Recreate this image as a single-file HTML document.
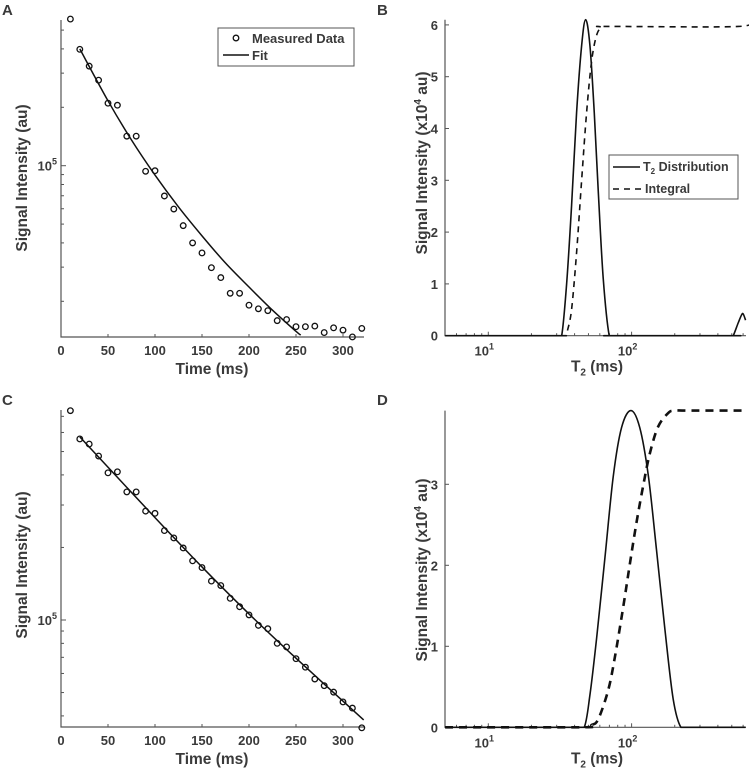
<!DOCTYPE html>
<html><head><meta charset="utf-8"><style>
body{margin:0;background:#fff;overflow:hidden}
svg{display:block}
text{font-family:"Liberation Sans",Arial,sans-serif;font-weight:bold;fill:#3a3a3a}
</style></head><body>
<svg id="fig" width="749" height="780" viewBox="0 0 749 780" xmlns="http://www.w3.org/2000/svg">
<g id="gA"></g>
<g id="gB"></g>
<g id="gC"></g>
<g id="gD"></g>
</svg>
<script>
// ---- Panel A data ----
const timesA = [10,20,30,40,50,60,70,80,90,100,110,120,130,140,150,160,170,180,190,200,210,220,230,240,250,260,270,280,290,300,310,320];
const measA = [5.70e5,3.98e5,3.26e5,2.76e5,2.10e5,2.05e5,1.42e5,1.42e5,9.36e4,9.42e4,6.98e4,5.98e4,4.91e4,4.0e4,3.55e4,2.98e4,2.65e4,2.20e4,2.20e4,1.91e4,1.83e4,1.79e4,1.59e4,1.61e4,1.48e4,1.48e4,1.49e4,1.38e4,1.46e4,1.42e4,1.31e4,1.45e4];
const fitTA = [20,50,75,100,125,150,175,200,225,250,255];
const fitVA = [4.0e5,2.16e5,1.357e5,8.95e4,6.13e4,4.35e4,3.15e4,2.37e4,1.80e4,1.40e4,1.34e4];
// ---- Panel C data ----
const timesC = timesA;
const measC = [7.39e5,5.64e5,5.37e5,4.79e5,4.08e5,4.12e5,3.40e5,3.40e5,2.83e5,2.77e5,2.35e5,2.19e5,1.99e5,1.76e5,1.65e5,1.45e5,1.39e5,1.23e5,1.135e5,1.05e5,9.5e4,9.2e4,8.0e4,7.73e4,6.91e4,6.37e4,5.69e4,5.34e4,5.02e4,4.57e4,4.31e4,3.57e4];
const fitTC = [20,100,150,200,250,322];
const fitVC = [5.75e5,2.66e5,1.66e5,1.06e5,6.94e4,3.85e4];
// ---- Panel B data ----
const distTB = [5,30,32.5,35.2,38.1,41.3,44.8,47.8,51.2,54.9,58.5,63.4,69.8,75,500,512,555,585,601,624];
const distVB = [0,0,0,1.0,2.5,4.3,5.6,6.1,5.6,4.3,2.8,1.1,0,0,0,0,0.25,0.4,0.42,0.3];
const intTB = [35.7,38.1,41.3,44.8,48.5,52.6,57.0,61.8,68.7,555,624];
const intVB = [0.1,0.5,1.6,3.0,4.3,5.3,5.8,5.95,5.97,5.97,6.1];
// ---- Panel D data ----
const distTD = [5,40,46.7,51.2,57.0,65.2,74.5,85.1,98.9,114,131,149,171,195,221,260,624];
const distVD = [0,0,0,0.4,1.1,2.1,3.1,3.7,3.91,3.7,3.1,2.2,1.2,0.35,0,0,0];
const intTD = [5,45,52.6,58.5,68.7,76.5,87.5,97.3,108,121,134,153,180,200,250,624];
const intVD = [0,0,0.03,0.1,0.46,0.87,1.49,2.02,2.52,3.0,3.38,3.71,3.88,3.91,3.91,3.91];
// tick labels
const timeTicks = [0,50,100,150,200,250,300];
const bTicks = [0,1,2,3,4,5,6];
const dTicks = [0,1,2,3];

const NS='http://www.w3.org/2000/svg';
function mk(parent,tag,attrs){const e=document.createElementNS(NS,tag);for(const k in attrs)e.setAttribute(k,attrs[k]);parent.appendChild(e);return e;}
const L=Math.log10;
function smooth(pts,clampY){
  let d='M'+pts[0][0]+','+pts[0][1];
  for(let i=0;i<pts.length-1;i++){
    const p0=pts[Math.max(0,i-1)],p1=pts[i],p2=pts[i+1],p3=pts[Math.min(pts.length-1,i+2)];
    let c1=[p1[0]+(p2[0]-p0[0])/6,p1[1]+(p2[1]-p0[1])/6];
    let c2=[p2[0]-(p3[0]-p1[0])/6,p2[1]-(p3[1]-p1[1])/6];
    if(clampY!==undefined){c1[1]=Math.min(c1[1],clampY);c2[1]=Math.min(c2[1],clampY);}
    d+=' C'+c1[0]+','+c1[1]+' '+c2[0]+','+c2[1]+' '+p2[0]+','+p2[1];
  }
  return d;
}

function timePanel(g,oy,yScale,minorVals,meas,times,fitT,fitV,label,legend){
  const x=t=>61+t*0.94;
  const y0=oy+20, y1=oy+337;
  const pl=mk(g,'text',{x:2,y:oy+15,'font-size':15,fill:'#000'});pl.textContent=label;
  
  
  const ax=mk(g,'path',{d:`M61,${y0}V${y1}H364`,stroke:'#555','stroke-width':1.2,fill:'none'});
  
  
  timeTicks.forEach(t=>{
    mk(g,'line',{x1:x(t),x2:x(t),y1:y1,y2:y1-3,stroke:'#555'});
    const tx=mk(g,'text',{x:x(t),y:y1+18,'font-size':13,'text-anchor':'middle'});tx.textContent=t;
    
    
  });
  minorVals.forEach(v=>{mk(g,'line',{x1:61,x2:64,y1:yScale(v),y2:yScale(v),stroke:'#555'});});
  mk(g,'line',{x1:61,x2:66,y1:yScale(1e5),y2:yScale(1e5),stroke:'#555'});
  const yl=mk(g,'text',{x:57,y:yScale(1e5)+5,'font-size':13,'text-anchor':'end'});
  yl.innerHTML='10<tspan dy="-6" font-size="9">5</tspan>';
  
  
  const yt=mk(g,'text',{transform:`translate(27,${oy+(label=='A'?178:175)}) rotate(-90)`,'font-size':15.5,'text-anchor':'middle'});yt.textContent='Signal Intensity (au)';
  
  
  const xt=mk(g,'text',{x:212,y:oy+374,'font-size':15.5,'text-anchor':'middle'});xt.textContent='Time (ms)';
  
  
  const fl=mk(g,'path',{d:smooth(fitT.map((t,i)=>[x(t),yScale(fitV[i])])),stroke:'#111','stroke-width':1.5,fill:'none'});
  
  
  times.forEach((t,i)=>{
    const c=mk(g,'circle',{cx:x(t),cy:yScale(meas[i]),r:2.8,stroke:'#111','stroke-width':1.3,fill:'none'});
    
    
  });
  if(legend){
    const lg=mk(g,'g',{});
    
    
    mk(lg,'rect',{x:218,y:28,width:136,height:38,fill:'#fff',stroke:'#555','stroke-width':1});
    mk(lg,'circle',{cx:236,cy:38,r:2.8,stroke:'#111','stroke-width':1.3,fill:'none'});
    const t1=mk(lg,'text',{x:252,y:43,'font-size':13});t1.textContent='Measured Data';
    
    
    mk(lg,'line',{x1:223,x2:249,y1:55,y2:55,stroke:'#111','stroke-width':1.5});
    const t2=mk(lg,'text',{x:252,y:60,'font-size':13});t2.textContent='Fit';
    
    
  }
}

function t2Panel(g,oy,y0px,pxUnit,ymax,yticks,dT,dV,iT,iV,label,legend,thick,titleY){
  const x=T=>488.3+143.3*(L(T)-1);
  const y=a=>oy+y0px-pxUnit*a;
  const top=y(ymax);
  const pl=mk(g,'text',{x:377,y:oy+15,'font-size':15,fill:'#000'});pl.textContent=label;
  
  
  const ax=mk(g,'path',{d:`M445,${top}V${y(0)}H746`,stroke:'#555','stroke-width':1.2,fill:'none'});
  
  
  yticks.forEach(v=>{
    mk(g,'line',{x1:445,x2:449,y1:y(v),y2:y(v),stroke:'#555'});
    const t=mk(g,'text',{x:438,y:y(v)+5,'font-size':13,'text-anchor':'end'});t.textContent=v;
    
    
  });
  [6,7,8,9,20,30,40,50,60,70,80,90,200,300,400,500,600].forEach(T=>mk(g,'line',{x1:x(T),x2:x(T),y1:y(0),y2:y(0)-2.5,stroke:'#555'}));
  [10,100].forEach((T,i)=>{
    mk(g,'line',{x1:x(T),x2:x(T),y1:y(0),y2:y(0)-4,stroke:'#555'});
    const t=mk(g,'text',{x:x(T)-4,y:y(0)+20,'font-size':13,'text-anchor':'middle'});
    t.innerHTML='10<tspan dy="-6" font-size="9">'+(i+1)+'</tspan>';
    
    
  });
  const yt=mk(g,'text',{transform:`translate(427,${titleY}) rotate(-90)`,'font-size':15.5,'text-anchor':'middle'});
  yt.innerHTML='Signal Intensity (x10<tspan dy="-6" font-size="10">4</tspan><tspan dy="6"> au)</tspan>';
  
  
  const xt=mk(g,'text',{x:597,y:y(0)+36,'font-size':15.5,'text-anchor':'middle'});
  xt.innerHTML='T<tspan dy="4" font-size="10">2</tspan><tspan dy="-4"> (ms)</tspan>';
  
  
  const il=mk(g,'path',{d:smooth(iT.map((T,i)=>[x(T),y(iV[i])]),y(0)),stroke:'#111','stroke-width':thick?2.6:1.6,'stroke-dasharray':thick?'8,6':'6,5',fill:'none'});
  
  
  const dl=mk(g,'path',{d:smooth(dT.map((T,i)=>[x(T),y(dV[i])]),y(0)),stroke:'#111','stroke-width':1.6,fill:'none'});
  
  
  if(legend){
    const lg=mk(g,'g',{});
    
    
    mk(lg,'rect',{x:609,y:155,width:129,height:44,fill:'#fff',stroke:'#555','stroke-width':1});
    mk(lg,'line',{x1:613,x2:640,y1:167,y2:167,stroke:'#111','stroke-width':1.6});
    const t1=mk(lg,'text',{x:643,y:171,'font-size':12.5});t1.innerHTML='T<tspan dy="3" font-size="8">2</tspan><tspan dy="-3"> Distribution</tspan>';
    
    
    mk(lg,'line',{x1:613,x2:642,y1:189,y2:189,stroke:'#111','stroke-width':1.6,'stroke-dasharray':'6,5'});
    const t2=mk(lg,'text',{x:645,y:193,'font-size':12.5});t2.textContent='Integral';
    
    
  }
}

const yA=v=>165.7-194*(L(v)-5);
const yC=v=>620-241*(L(v)-5);
timePanel(document.getElementById('gA'),0,yA,[2e4,3e4,4e4,5e4,6e4,7e4,8e4,9e4,2e5,3e5,4e5,5e5],measA,timesA,fitTA,fitVA,'A',true);
timePanel(document.getElementById('gC'),390,yC,[4e4,5e4,6e4,7e4,8e4,9e4,2e5,3e5,4e5,5e5,6e5,7e5],measC,timesC,fitTC,fitVC,'C',false);
t2Panel(document.getElementById('gB'),0,335.7,51.8,6.1,bTicks,distTB,distVB,intTB,intVB,'B',true,false,163);
t2Panel(document.getElementById('gD'),390,337.3,81,3.91,dTicks,distTD,distVD,intTD,intVD,'D',false,true,570);
</script>
</body></html>
